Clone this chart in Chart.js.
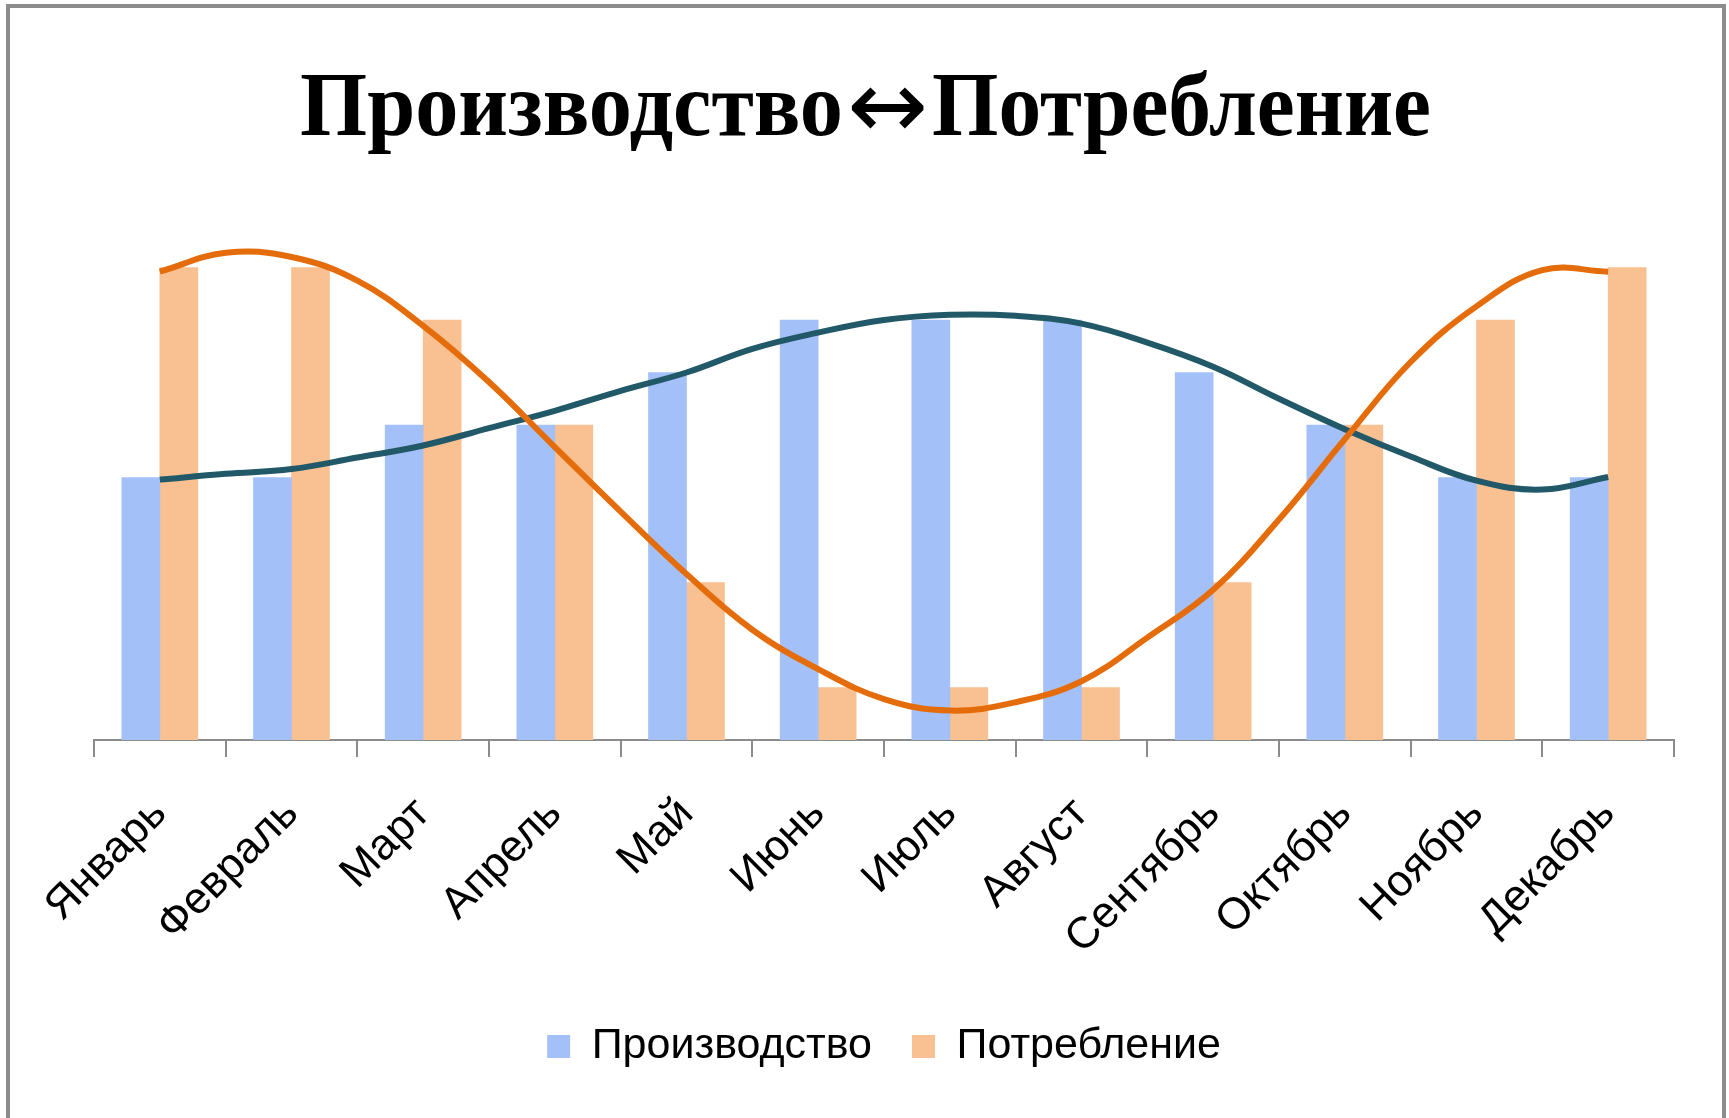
<!DOCTYPE html>
<html lang="ru">
<head>
<meta charset="utf-8">
<title>Производство↔Потребление</title>
<script src="https://cdn.jsdelivr.net/npm/chart.js@4.4.1/dist/chart.umd.min.js"></script>
<style>
  html, body { margin: 0; padding: 0; background: #fff; }
  #wrap { position: relative; width: 1729px; height: 1118px; overflow: hidden; }
  #frame { position: absolute; left: 6px; top: 4px; width: 1712px; height: 1200px; border: 4px solid #8c8c8c; }
  canvas { position: absolute; left: 0; top: 0; }
</style>
</head>
<body>
<div id="wrap">
  <div id="frame"></div>
  <canvas id="myChart" width="1729" height="1118"></canvas>
</div>
<script>
const titleLeft = 'Производство'
const titleArrow = '↔'
const titleRight = 'Потребление'
const months = ['Январь', 'Февраль', 'Март', 'Апрель', 'Май', 'Июнь', 'Июль', 'Август', 'Сентябрь', 'Октябрь', 'Ноябрь', 'Декабрь']
const production = [5, 5, 6, 6, 7, 8, 8, 8, 7, 6, 5, 5]
const consumption = [9, 9, 8, 6, 3, 1, 1, 1, 3, 6, 8, 9]

// trend curves every half month (0 = Январь)
const trendSteps = [0, 0.5, 1, 1.5, 2, 2.5, 3, 3.5, 4, 4.5, 5, 5.5, 6, 6.5, 7, 7.5, 8, 8.5, 9, 9.5, 10, 10.5, 11]
const productionTrend = [4.96, 5.07, 5.16, 5.38, 5.61, 5.94, 6.27, 6.65, 7.0, 7.45, 7.76, 8.0, 8.1, 8.08, 7.93, 7.57, 7.11, 6.5, 5.92, 5.4, 4.94, 4.77, 5.01]
const consumptionTrend = [8.92, 9.28, 9.2, 8.75, 7.89, 6.82, 5.58, 4.35, 3.16, 2.1, 1.35, 0.78, 0.56, 0.72, 1.12, 1.95, 2.86, 4.2, 5.73, 7.2, 8.26, 8.95, 8.92]

const sansFont = '"Liberation Sans", Arial, sans-serif'
const serifBold = 'bold 92px "Liberation Serif", "Times New Roman", serif'

function toPoints (values) {
  return values.map(function (v, i) {
    return { x: trendSteps[i], y: v }
  })
}

// squeeze a piece of text into [x0, x1]
function drawSqueezed (ctx, text, x0, x1, y) {
  const w = ctx.measureText(text).width
  ctx.save()
  ctx.translate(x0, y)
  ctx.scale((x1 - x0) / w, 1)
  ctx.fillText(text, 0, 0)
  ctx.restore()
}

const titlePlugin = {
  id: 'squeezedTitle',
  afterDraw: function (chart) {
    const ctx = chart.ctx
    ctx.save()
    ctx.fillStyle = '#000'
    ctx.textBaseline = 'alphabetic'
    ctx.textAlign = 'left'
    ctx.font = serifBold
    drawSqueezed(ctx, titleLeft, 300, 843, 135)
    drawSqueezed(ctx, titleRight, 932, 1431, 135)

    ctx.font = '96px "DejaVu Sans", sans-serif'
    const m = ctx.measureText(titleArrow)
    const mid = (m.actualBoundingBoxAscent - m.actualBoundingBoxDescent) / 2
    drawSqueezed(ctx, titleArrow, 847, 928, 108 + mid)
    ctx.restore()
  }
}

function createChart () {
  const ctx = document.getElementById('myChart').getContext('2d')
  // eslint-disable-next-line no-unused-vars
  const myChart = new Chart(ctx, {
    type: 'line',
    data: {
      labels: months,
      datasets: [
        {
          label: 'trend2',
          data: toPoints(consumptionTrend),
          xAxisID: 'trend',
          borderColor: '#e46c0a',
          borderWidth: 6,
          pointRadius: 0,
          tension: 0.4,
          fill: false,
          order: 0
        },
        {
          label: 'trend1',
          data: toPoints(productionTrend),
          xAxisID: 'trend',
          borderColor: '#215968',
          borderWidth: 6,
          pointRadius: 0,
          tension: 0.4,
          fill: false,
          order: 1
        },
        {
          type: 'bar',
          label: 'Производство',
          data: production,
          xAxisID: 'x',
          backgroundColor: '#a4c0f8',
          barThickness: 38,
          order: 2
        },
        {
          type: 'bar',
          label: 'Потребление',
          data: consumption,
          xAxisID: 'x',
          backgroundColor: '#f9c091',
          barThickness: 38,
          order: 2
        }
      ]
    },
    options: getChartOptions(),
    plugins: [titlePlugin]
  })
}

function getChartOptions () {
  return {
    responsive: false,
    animation: false,
    devicePixelRatio: 1,
    layout: {
      padding: { top: 215, left: 94, right: 55, bottom: 40 }
    },
    scales: {
      x: getXScale(),
      y: {
        display: false,
        min: 0,
        max: 10
      },
      trend: {
        type: 'linear',
        display: false,
        offset: false,
        min: -0.5,
        max: 11.5
      }
    },
    plugins: {
      title: { display: false },
      tooltip: { enabled: false },
      legend: {
        position: 'bottom',
        labels: {
          filter: function (item) { return item.datasetIndex >= 2 },
          boxWidth: 23,
          boxHeight: 23,
          padding: 40,
          color: '#000',
          font: { family: sansFont, size: 43 }
        }
      }
    }
  }
}

function getXScale () {
  return {
    type: 'category',
    offset: true,
    grid: {
      offset: true,
      drawOnChartArea: false,
      drawTicks: true,
      tickLength: 17,
      color: '#8c8c8c',
      lineWidth: 2
    },
    border: { color: '#8c8c8c', width: 2 },
    ticks: {
      minRotation: 45,
      maxRotation: 45,
      padding: 31,
      color: '#000',
      font: { family: sansFont, size: 44 }
    },
    afterFit: function (scale) {
      scale.height = 245
    }
  }
}

createChart()
</script>
</body>
</html>
